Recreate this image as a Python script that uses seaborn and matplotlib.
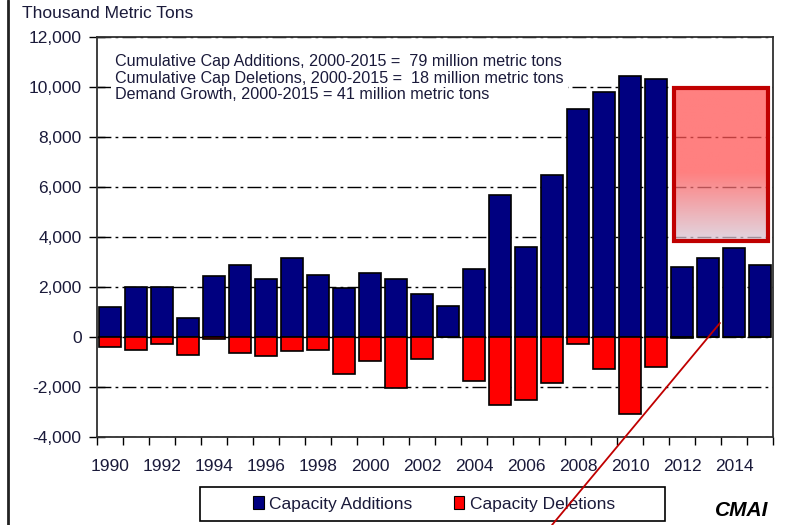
import matplotlib
matplotlib.use("Agg")
import matplotlib.pyplot as plt
import seaborn as sns
import numpy as np
from matplotlib.patches import Patch, Rectangle
from matplotlib.lines import Line2D
from matplotlib.ticker import FuncFormatter

sns.set_theme(style="white")
plt.rcParams['font.family'] = ['Liberation Sans', 'DejaVu Sans']

# Data (thousand metric tons)
years = [str(y) for y in range(1990, 2016)]
additions = [1200, 2000, 2000, 760, 2440, 2870, 2310, 3170, 2490, 1960,
             2550, 2310, 1730, 1230, 2730, 5680, 3610, 6490, 9110, 9800,
             10430, 10310, 2800, 3170, 3560, 2870]
deletions = [-400, -530, -270, -730, -60, -640, -770, -570, -530, -1470,
             -960, -2030, -890, 0, -1760, -2710, -2510, -1830, -270, -1270,
             -3090, -1200, -50, 0, 0, 0]
year_labels = [str(y) for y in range(1990, 2016, 2)]
notes = ["Cumulative Cap Additions, 2000-2015 =  79 million metric tons",
         "Cumulative Cap Deletions, 2000-2015 =  18 million metric tons",
         "Demand Growth, 2000-2015 = 41 million metric tons"]

navy = "#000080"
red = "#FF0000"
txt = "#1a1a3a"

fig = plt.figure(figsize=(7.9, 5.25), dpi=100)
ax = fig.add_axes([97 / 790, 88 / 525, 676 / 790, 400 / 525])

sns.barplot(x=years, y=additions, color=navy, saturation=1, width=0.86,
            edgecolor="black", linewidth=1.2, ax=ax, zorder=2)
sns.barplot(x=years, y=deletions, color=red, saturation=1, width=0.86,
            edgecolor="black", linewidth=1.2, ax=ax, zorder=2)

ax.set_xlim(-0.5, 25.5)
ax.set_ylim(-4000, 12000)
ax.set_yticks(range(-4000, 12001, 2000))
ax.yaxis.set_major_formatter(FuncFormatter(lambda v, p: f"{int(v):,}"))
ax.set_xticks(range(0, 26, 2), year_labels)
ax.set_xticks(np.arange(-0.5, 26, 1), minor=True)
ax.tick_params(axis="x", which="major", length=0, pad=16, labelsize=12.5, labelcolor=txt)
ax.tick_params(axis="x", which="minor", length=6, width=1, direction="out", color="black", bottom=True)
ax.tick_params(axis="y", length=12, width=1, direction="inout", pad=5, labelsize=12.5,
               labelcolor=txt, color="black", left=True)
ax.set_xlabel("")
ax.set_ylabel("")

ax.set_axisbelow(True)
ax.yaxis.grid(True, color="black", linewidth=1, linestyle=(0, (10, 3, 2, 3)))
ax.xaxis.grid(False)
for s in ax.spines.values():
    s.set_color("#303030")
    s.set_linewidth(1.3)

# notes box
ax.text(0.027, 0.958, "\n".join(notes), transform=ax.transAxes, ha="left", va="top",
        fontsize=11.6, color=txt, linespacing=1.15, zorder=5,
        bbox=dict(facecolor="white", edgecolor="none", pad=3))

# highlighted forecast box with gradient
grad = np.linspace(0, 1, 200)
rgba = np.zeros((200, 1, 4))
top_c = np.array([255, 85, 85]) / 255
bot_c = np.array([215, 201, 215]) / 255
for i, g in enumerate(grad):
    t = max(0, (g - 0.55) / 0.45)
    rgba[i, 0, :3] = top_c * (1 - t) + bot_c * t
    rgba[i, 0, 3] = 0.75
ax.imshow(rgba, extent=[21.69, 25.31, 3850, 9950], origin="upper", aspect="auto",
          zorder=3, interpolation="bilinear")
ax.add_patch(Rectangle((21.69, 3850), 25.31 - 21.69, 9950 - 3850, fill=False,
                       edgecolor="#C00000", linewidth=3, zorder=4))
ax.set_xlim(-0.5, 25.5)
ax.set_ylim(-4000, 12000)

fig.text(22 / 790, 1 - 14 / 525, "Thousand Metric Tons", fontsize=12.5, color=txt,
         ha="left", va="center")

# legend with a manual frame
handles = [Patch(facecolor=navy, edgecolor="black", linewidth=0.8, label="Capacity Additions"),
           Patch(facecolor=red, edgecolor="black", linewidth=0.8, label="Capacity Deletions")]
fig.legend(handles=handles, loc="center", bbox_to_anchor=(434 / 790, 1 - 504 / 525),
           ncol=2, frameon=False, fontsize=12.5, handlelength=0.6, handleheight=0.7,
           handletextpad=0.3, columnspacing=2.4, labelcolor=txt)
fig.add_artist(Rectangle((200 / 790, 1 - 521 / 525), 465 / 790, 34 / 525, fill=False,
                         edgecolor="black", linewidth=1.2, transform=fig.transFigure))

fig.text(742 / 790, 1 - 510 / 525, "CMAI", fontsize=15, fontweight="bold", style="italic",
         color="black", ha="center", va="center")

# frame line at left and the red pointer line
fig.add_artist(Line2D([8 / 790, 8 / 790], [0, 1], color="#222222", linewidth=2,
                      transform=fig.transFigure))
fig.add_artist(Line2D([720 / 790, 552 / 790], [1 - 323 / 525, 0], color="#C00000",
                      linewidth=1.3, transform=fig.transFigure, zorder=10))

fig.savefig("out.png", dpi=100)
